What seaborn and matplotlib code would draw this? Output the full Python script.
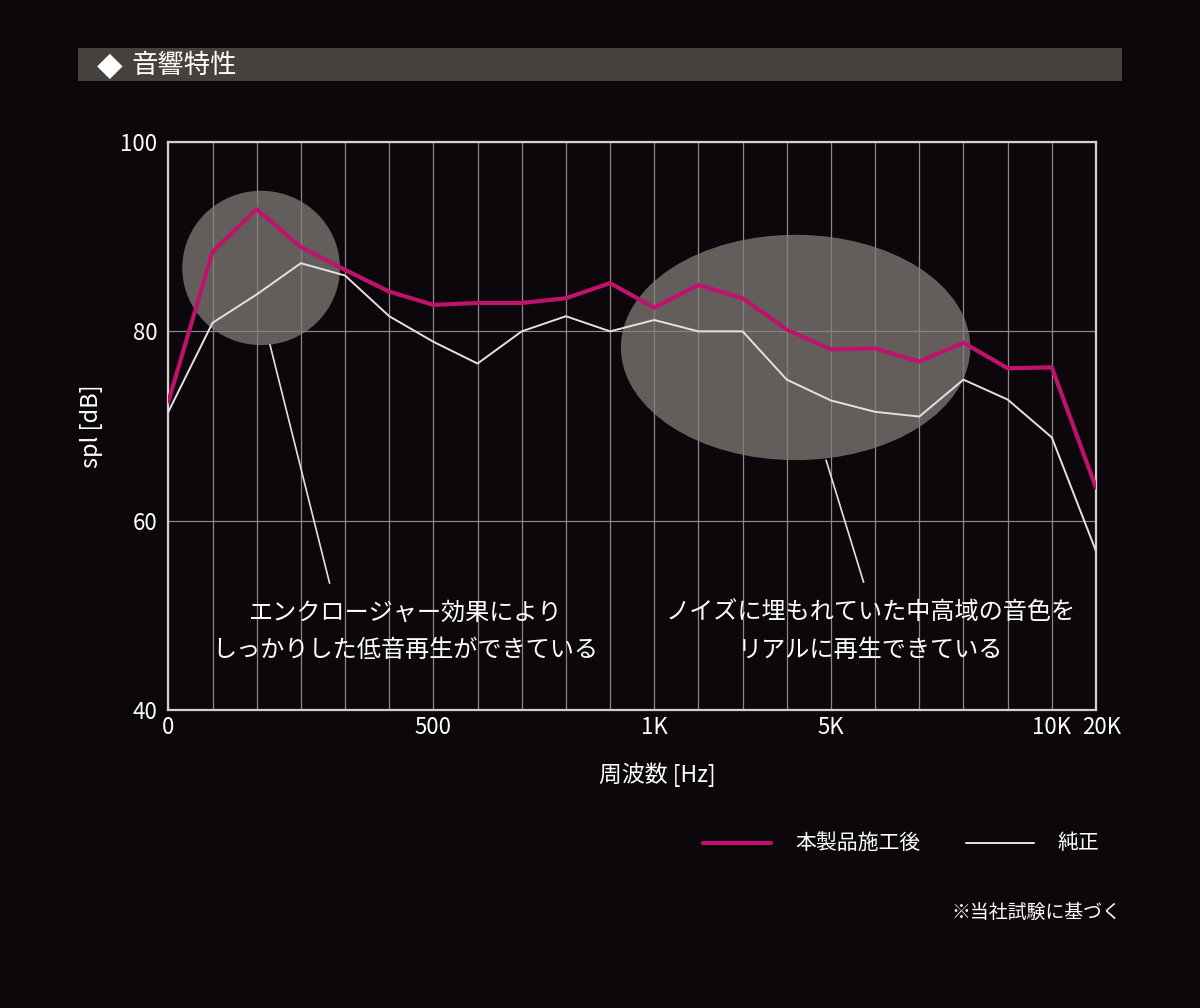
import pandas as pd
import matplotlib.pyplot as plt
import matplotlib.transforms as mtransforms
import seaborn as sns
from matplotlib.patches import Ellipse, Rectangle

# frequency axis: 22 evenly spaced measurement points, only some labelled
tick_labels = ["0", "", "", "", "", "", "500", "", "", "", "", "1K",
               "", "", "", "5K", "", "", "", "", "10K", "20K"]

# spl [dB]
after_db = [72.6, 88.4, 92.9, 88.9, 86.5, 84.2, 82.8, 83.0, 83.0, 83.5, 85.1,
            82.5, 84.9, 83.5, 80.2, 78.1, 78.2, 76.8, 78.8, 76.1, 76.2, 63.5]
stock_db = [71.5, 80.9, 83.9, 87.2, 85.9, 81.6, 78.9, 76.6, 80.0, 81.6, 80.0,
            81.2, 80.0, 80.0, 74.9, 72.7, 71.5, 71.0, 74.9, 72.8, 68.8, 56.8]

series_names = ["本製品施工後", "純正"]

bg = "#0c070a"
magenta = "#bf126d"
white = "#e6dfe3"

sns.set_theme(style="dark")
plt.rcParams['font.family'] = ['Noto Sans CJK JP', 'DejaVu Sans']

idx = list(range(len(tick_labels)))
df = pd.DataFrame({
    "pos": idx * 2,
    "db": after_db + stock_db,
    "series": [series_names[0]] * len(idx) + [series_names[1]] * len(idx),
})

fig = plt.figure(figsize=(12, 10.08), dpi=100, facecolor=bg)
ax = fig.add_axes([0.1403, 0.2956, 0.7730, 0.5635])
ax.set_facecolor(bg)

sns.lineplot(data=df, x="pos", y="db", hue="series", size="series",
             palette={series_names[0]: magenta, series_names[1]: white},
             sizes={series_names[0]: 3.0, series_names[1]: 1.4},
             legend=False, ax=ax, zorder=4)

# highlight blobs
ax.add_patch(Ellipse((2.10, 86.7), 3.57, 16.3, facecolor="#85817d",
                     alpha=0.72, edgecolor="none", zorder=2))
ax.add_patch(Ellipse((14.2, 78.3), 7.91, 23.8, facecolor="#85817d",
                     alpha=0.72, edgecolor="none", zorder=2))

# callout leader lines
ax.plot([2.30, 3.65], [78.6, 53.4], color=white, lw=1.2, zorder=3)
ax.plot([14.89, 15.74], [66.4, 53.5], color=white, lw=1.2, zorder=3)

ax.text(5.37, 48.3, "エンクロージャー効果により\nしっかりした低音再生ができている",
        color="white", fontsize=17.4, ha="center", va="center",
        linespacing=1.6, zorder=5)
ax.text(15.9, 48.3, "ノイズに埋もれていた中高域の音色を\nリアルに再生できている",
        color="white", fontsize=17.4, ha="center", va="center",
        linespacing=1.6, zorder=5)

ax.set_xlim(0, len(idx) - 1)
ax.set_ylim(40, 100)
ax.set_xticks(idx)
ax.set_xticklabels(tick_labels)
ax.set_yticks([40, 60, 80, 100])
ax.tick_params(colors="white", labelsize=16, length=0, pad=8)
ax.tick_params(axis="x", pad=4)
ax.grid(True, color="#8c8589", lw=0.9, zorder=1)
ax.set_axisbelow(True)
for s in ax.spines.values():
    s.set_visible(True)
    s.set_color("#d6ced2")
    s.set_linewidth(1.6)

# nudge the last label a little right, like the original
last = ax.get_xticklabels()[-1]
last.set_transform(last.get_transform() +
                   mtransforms.ScaledTranslation(6 / 100, 0, fig.dpi_scale_trans))

ax.set_xlabel("周波数 [Hz]", color="white", fontsize=16.5)
ax.xaxis.set_label_coords(0.527, -0.092)
ax.set_ylabel("spl [dB]", color="white", fontsize=17)
ax.yaxis.set_label_coords(-0.070, 0.5)

# title bar
fig.patches.append(Rectangle((78 / 1200, 1 - 80.5 / 1008), 1044 / 1200, 32.5 / 1008,
                             transform=fig.transFigure, facecolor="#46413e",
                             edgecolor="none", zorder=0))
fig.text(97 / 1200, 1 - 65 / 1008, "◆", color="white", fontsize=24,
         ha="left", va="center", family=['DejaVu Sans'])
fig.text(132 / 1200, 1 - 65 / 1008, "音響特性", color="white", fontsize=19,
         ha="left", va="center")

# legend
fig.lines.append(plt.Line2D([703 / 1200, 771 / 1200], [1 - 843 / 1008] * 2,
                            transform=fig.transFigure, color=magenta, lw=3))
fig.text(795 / 1200, 1 - 843 / 1008, series_names[0], color="white",
         fontsize=15, ha="left", va="center")
fig.lines.append(plt.Line2D([966 / 1200, 1034 / 1200], [1 - 843 / 1008] * 2,
                            transform=fig.transFigure, color=white, lw=1.4))
fig.text(1057 / 1200, 1 - 843 / 1008, series_names[1], color="white",
         fontsize=15, ha="left", va="center")

fig.text(1121 / 1200, 1 - 912 / 1008, "※当社試験に基づく", color="white",
         fontsize=13.6, ha="right", va="center")

fig.savefig("out.png", dpi=100, facecolor=bg)
